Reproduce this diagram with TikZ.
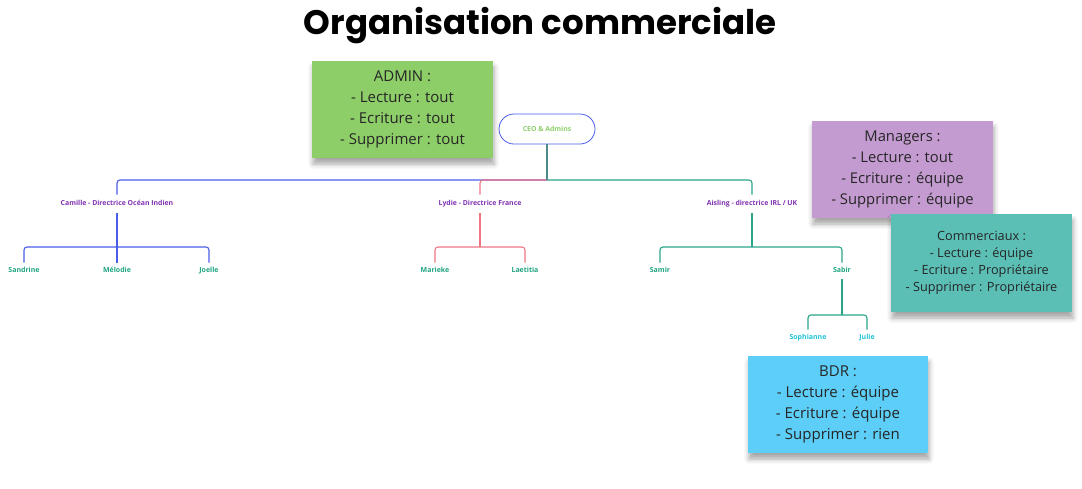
\documentclass[tikz,border=0pt]{standalone}
\usepackage{fontspec}
\setmainfont{Open Sans}
\newfontfamily\titlefont{Poppins}
\usetikzlibrary{shadows.blur}

\definecolor{admingreen}{HTML}{8DCE69}
\definecolor{managerpurple}{HTML}{C49BD1}
\definecolor{salesteal}{HTML}{5BBFB6}
\definecolor{bdrblue}{HTML}{5CCEF7}
\definecolor{linkblue}{HTML}{4A5CE8}
\definecolor{linkpink}{HTML}{F07584}
\definecolor{linkteal}{HTML}{2AA58A}
\definecolor{linkgray}{HTML}{4F8A8A}
\definecolor{leadpurple}{HTML}{8032B2}
\definecolor{membergreen}{HTML}{1FA382}
\definecolor{membercyan}{HTML}{22C3D6}

\begin{document}
\begin{tikzpicture}[x=1pt, y=-1pt,
    sticky/.style = {minimum width=181pt, minimum height=97pt, align=center,
      text=black!85, font=\fontsize{15}{21}\selectfont,
      blur shadow={shadow xshift=1pt, shadow yshift=-6pt,
        shadow blur radius=5pt, shadow opacity=35}},
    lead/.style = {font=\fontsize{6.9}{8}\selectfont\bfseries, text=leadpurple,
      text height=5pt, text depth=1.5pt, inner sep=6pt},
    member/.style = {font=\fontsize{7}{8}\selectfont\bfseries, text=membergreen,
      text height=5pt, text depth=1.5pt, inner sep=5pt},
    branch/.style = {line width=1.1pt, rounded corners=3pt}]
  \useasboundingbox (0,0) rectangle (1082,488);

  % Titre
  \node (title) at (540,26) {\titlefont\bfseries\fontsize{34}{40}\selectfont Organisation commerciale};

  % Racine
  \node[draw=linkblue, line width=0.8pt, rounded corners=15pt, minimum width=96pt,
    minimum height=30pt, font=\fontsize{6.9}{8}\selectfont\bfseries, text=admingreen]
    (ceo) at (547,129) {CEO \& Admins};

  % Directrices
  \node[lead] (camille) at (117,204) {Camille - Directrice Océan Indien};
  \node[lead] (lydie) at (480,204) {Lydie - Directrice France};
  \node[lead] (aisling) at (752,204) {Aisling - directrice IRL / UK};

  % Equipes
  \node[member] (sandrine) at (24,271) {Sandrine};
  \node[member] (melodie) at (117,271) {Mélodie};
  \node[member] (joelle) at (209,271) {Joelle};
  \node[member] (marieke) at (435,271) {Marieke};
  \node[member] (laetitia) at (525,271) {Laetitia};
  \node[member] (samir) at (660,271) {Samir};
  \node[member] (sabir) at (842,271) {Sabir};
  \node[member, text=membercyan] (sophianne) at (808,338) {Sophianne};
  \node[member, text=membercyan] (julie) at (867,338) {Julie};

  % Jonctions
  \coordinate (j0) at (547,180);
  \coordinate (jc) at (117,247);
  \coordinate (jl) at (480,247);
  \coordinate (ja) at (752,247);
  \coordinate (js) at (842,315);

  % Liens
  \draw[branch, draw=linkblue] (j0) -| (camille);
  \draw[branch, draw=linkpink] (j0) -| (lydie);
  \draw[branch, draw=linkteal] (j0) -| (aisling);
  \draw[branch, draw=linkgray] (ceo) -- (j0);

  \draw[branch, draw=linkblue] (jc) -| (sandrine);
  \draw[branch, draw=linkblue] (jc) -| (joelle);
  \draw[branch, draw=linkblue] (camille.south) -- (melodie.north);

  \draw[branch, draw=linkpink] (lydie) -- (jl);
  \draw[branch, draw=linkpink] (jl) -| (marieke);
  \draw[branch, draw=linkpink] (jl) -| (laetitia);

  \draw[branch, draw=linkteal] (aisling) -- (ja);
  \draw[branch, draw=linkteal] (ja) -| (samir);
  \draw[branch, draw=linkteal] (ja) -| (sabir);

  \draw[branch, draw=linkteal] (sabir) -- (js);
  \draw[branch, draw=linkteal] (js) -| (sophianne);
  \draw[branch, draw=linkteal] (js) -| (julie);

  % Droits
  \node[sticky, fill=admingreen] (admin) at (402.5,109.5)
    {ADMIN :\\- Lecture : tout\\- Ecriture : tout\\- Supprimer : tout};
  \node[sticky, fill=managerpurple, font=\fontsize{14.8}{21}\selectfont] (managers) at (902.5,169.5)
    {Managers :\\- Lecture : tout\\- Ecriture : équipe\\- Supprimer : équipe};
  \node[sticky, fill=salesteal, minimum height=98pt, font=\fontsize{12.7}{17}\selectfont]
    (commerciaux) at (981.5,263)
    {Commerciaux :\\- Lecture : équipe\\- Ecriture : Propriétaire\\- Supprimer : Propriétaire};
  \node[sticky, fill=bdrblue, minimum width=180pt] (bdr) at (838,404.5)
    {BDR :\\- Lecture : équipe\\- Ecriture : équipe\\- Supprimer : rien};
\end{tikzpicture}
\end{document}
